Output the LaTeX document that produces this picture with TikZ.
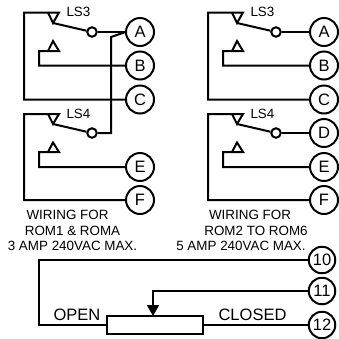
\documentclass[tikz,border=0pt]{standalone}
\usepackage{fontspec}
\setmainfont{Liberation Sans}
\usetikzlibrary{positioning,arrows.meta}
\newcommand{\bigtxt}{\fontsize{16.5}{16.5}\selectfont}
\newcommand{\smalltxt}{\fontsize{13.4}{15}\selectfont}

\begin{document}
\begin{tikzpicture}[x=1pt, y=-1pt, line width=2pt, line join=miter,
    term/.style={draw, circle, minimum size=28pt, inner sep=0pt, font=\bigtxt, fill=white},
    lug/.style={draw, circle, minimum size=9.5pt, inner sep=0pt, fill=white},
    note/.style={font=\smalltxt, align=center, inner sep=0pt},
    lab/.style={font=\bigtxt, inner sep=0pt}]
\useasboundingbox (0,0) rectangle (339,338);
% terminals
\foreach \nm/\xx/\yy/\txt in {la/140/32/A, lb/140/65.5/B, lc/140/99.5/C, le/140/167/E, lf/140/200/F,
                              ra/324/32/A, rb/324/65.5/B, rc/324/99.5/C, rd/324/133/D, re/324/167/E, rf/324/200/F}
  \node[term] (\nm) at (\xx,\yy) {\txt};
\foreach \nm/\yy/\txt in {ten/260/10, eleven/291/11, twelve/325/12}
  \node[term, minimum size=26.5pt] (\nm) at (322,\yy) {\txt};
% switch contacts
\foreach \nm/\xx/\yy in {lupper/92/32, llower/92/133, rupper/276/32, rlower/276/133}
  \node[lug] (\nm) at (\xx,\yy) {};
% upper switches
\foreach \pn/\ox/\tA/\tB/\tC/\com in {l/0/la/lb/lc/lupper, r/184/ra/rb/rc/rupper}{
  \draw (\tC) -- (\ox+24,99.5) -- (\ox+24,12.5) -- (\ox+59,12.5) -- (\ox+53,23) -- (\ox+48,12.5);
  \draw (\ox+53,23) -- (\com);
  \draw (\com) -- (\tA);
  \draw (\tB) -- (\ox+39,65.5) -- (\ox+39,51) -- (\ox+59,51) -- (\ox+53,41) -- (\ox+48,51);
  \node[note, anchor=west] (\pn ls3) at (\ox+65.5,12) {LS3};
}
% lower switches
\foreach \pn/\ox/\tE/\tF/\com in {l/0/le/lf/llower, r/184/re/rf/rlower}{
  \draw (\tF) -- (\ox+24,200) -- (\ox+24,114) -- (\ox+59,114) -- (\ox+53,124) -- (\ox+48,114);
  \draw (\ox+53,124) -- (\com);
  \draw (\tE) -- (\ox+39,167) -- (\ox+39,152) -- (\ox+59,152) -- (\ox+53,142.5) -- (\ox+48,152);
  \node[note, anchor=west] (\pn ls4) at (\ox+65.5,114) {LS4};
}
% jumper
\draw (llower) -- (111,133) -- (111,37) -- (125.5,32);
\draw (rlower) -- (rd);
% captions
\node[note] (lcapa) at (67.5,215) {WIRING FOR};
\node[note] (lcapb) at (72.5,230.5) {ROM1 \& ROMA};
\node[note] (lcapc) at (72.5,245.5) {3 AMP 240VAC MAX.};
\node[note] (rcapa) at (250,215) {WIRING FOR};
\node[note] (rcapb) at (256,230.5) {ROM2 TO ROM6};
\node[note] (rcapc) at (241,245.5) {5 AMP 240VAC MAX.};
% actuator
\node[draw, minimum width=96pt, minimum height=18.5pt, inner sep=0pt] (pot) at (155,325) {};
\coordinate (wiper) at (153,316);
\draw (ten) -- (39,260) -- (39,325) -- (pot.west);
\draw (pot.east) -- (twelve);
\draw[-{Triangle[length=11pt,width=12pt]}] (eleven) -- (153,291) -- (wiper);
\node[lab] (open) at (77,315) {OPEN};
\node[lab] (closed) at (252.5,315) {CLOSED};
\end{tikzpicture}
\end{document}
